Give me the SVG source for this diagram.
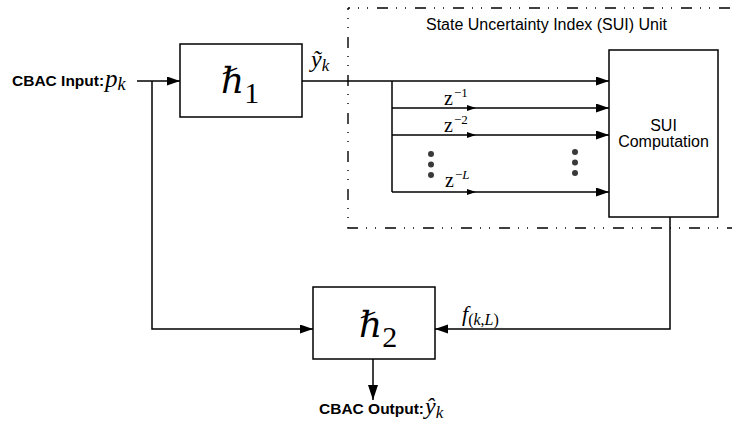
<svg xmlns="http://www.w3.org/2000/svg" width="732" height="424" viewBox="0 0 732 424">
  <style>
    .box { fill: #ffffff; stroke: #000000; stroke-width: 1.5; }
    .wire { fill: none; stroke: #000000; stroke-width: 1.5; }
    .unit { fill: none; stroke: #000000; stroke-width: 1.4; stroke-dasharray: 11 8 1 8 1 9; stroke-dashoffset: 9; }
    .sans { font-family: "Liberation Sans", Arial, sans-serif; fill: #000000; }
    .bold { font-weight: bold; }
    .math { font-family: "Liberation Serif", "DejaVu Serif", "Times New Roman", serif; font-style: italic; fill: #000000; }
    .up { font-style: normal; }
    .dot { fill: #3a3a3a; }
  </style>
  <defs>
    <marker id="arrow" markerUnits="userSpaceOnUse" markerWidth="14" markerHeight="10" refX="13" refY="4.5" orient="auto">
      <path d="M0,0 L13,4.5 L0,9 z" fill="#000000"/>
    </marker>
    <marker id="arrow-small" markerUnits="userSpaceOnUse" markerWidth="10" markerHeight="7" refX="9" refY="3" orient="auto">
      <path d="M0,0 L9,3 L0,6 z" fill="#000000"/>
    </marker>
    <marker id="arrow-down" markerUnits="userSpaceOnUse" markerWidth="16" markerHeight="11" refX="15" refY="5" orient="auto">
      <path d="M0,0 L15,5 L0,10 z" fill="#000000"/>
    </marker>
  </defs>

  <!-- SUI unit boundary (dash-dot frame, open to the right edge) -->
  <g id="sui-unit">
    <path class="unit" d="M348,8 H740 M348,8 V228 H740"/>
    <text class="sans" x="426" y="30" font-size="16">State Uncertainty Index (SUI)  Unit</text>
  </g>

  <!-- connectors -->
  <g id="connectors">
    <!-- input p_k into h1 -->
    <path class="wire" d="M137,81 H180" marker-end="url(#arrow)"/>
    <!-- p_k branch down to h2 -->
    <path class="wire" d="M152,81 V329 H313" marker-end="url(#arrow)"/>
    <!-- h1 output into SUI computation -->
    <path class="wire" d="M302,81 H609" marker-end="url(#arrow)"/>
    <!-- delay line fan-out -->
    <path class="wire" d="M392,81 V192"/>
    <path class="wire" d="M392,108 H476" marker-end="url(#arrow-small)"/>
    <path class="wire" d="M476,108 H609" marker-end="url(#arrow)"/>
    <path class="wire" d="M392,135 H476" marker-end="url(#arrow-small)"/>
    <path class="wire" d="M476,135 H609" marker-end="url(#arrow)"/>
    <path class="wire" d="M392,192 H476" marker-end="url(#arrow-small)"/>
    <path class="wire" d="M476,192 H609" marker-end="url(#arrow)"/>
    <!-- SUI result f(k,L) into h2 -->
    <path class="wire" d="M670,217 V329 H435" marker-end="url(#arrow)"/>
    <!-- h2 output -->
    <path class="wire" d="M373,359 V400" marker-end="url(#arrow-down)"/>
  </g>

  <!-- delay labels and ellipsis dots -->
  <g id="delays">
    <text class="math up" x="444" y="105" font-size="20">z<tspan dx="1" dy="-8" font-size="13">−1</tspan></text>
    <text class="math up" x="444" y="132" font-size="20">z<tspan dx="1" dy="-8" font-size="13">−2</tspan></text>
    <text class="math up" x="445" y="187" font-size="20">z<tspan dx="1" dy="-8" font-size="13">−<tspan font-style="italic">L</tspan></tspan></text>
    <circle class="dot" cx="431" cy="154" r="3"/>
    <circle class="dot" cx="431" cy="164.5" r="3"/>
    <circle class="dot" cx="431" cy="175" r="3"/>
    <circle class="dot" cx="575" cy="152" r="3"/>
    <circle class="dot" cx="575" cy="162.5" r="3"/>
    <circle class="dot" cx="575" cy="173" r="3"/>
  </g>

  <!-- h1 block -->
  <g id="node-h1">
    <rect class="box" x="180" y="44" width="122" height="73"/>
    <text class="math" x="221" y="93" font-size="36">ℏ<tspan class="up" dy="10" font-size="30">1</tspan></text>
  </g>

  <!-- SUI computation block -->
  <g id="node-sui">
    <rect class="box" x="609" y="50" width="109" height="167"/>
    <text class="sans" x="663.5" y="131" font-size="16" text-anchor="middle">SUI</text>
    <text class="sans" x="663.5" y="147" font-size="16" text-anchor="middle">Computation</text>
  </g>

  <!-- h2 block -->
  <g id="node-h2">
    <rect class="box" x="313" y="287" width="122" height="72"/>
    <text class="math" x="359" y="337" font-size="36">ℏ<tspan class="up" dy="10" font-size="30">2</tspan></text>
  </g>

  <!-- signal labels -->
  <g id="labels">
    <text class="sans bold" x="12" y="86" font-size="15.5">CBAC Input:</text>
    <text class="math" x="105" y="87" font-size="25">p<tspan dy="3" font-size="18">k</tspan></text>
    <text class="math" x="311" y="67" font-size="24">ỹ<tspan dy="4" font-size="17">k</tspan></text>
    <text class="math" x="462" y="321" font-size="22">f<tspan dy="4" font-size="16"><tspan class="up">(</tspan>k<tspan class="up">,</tspan>L<tspan class="up">)</tspan></tspan></text>
    <text class="sans bold" x="319" y="414" font-size="15.5">CBAC Output:</text>
    <text class="math" x="425" y="414" font-size="24">ŷ<tspan dy="4" font-size="17">k</tspan></text>
  </g>
</svg>
